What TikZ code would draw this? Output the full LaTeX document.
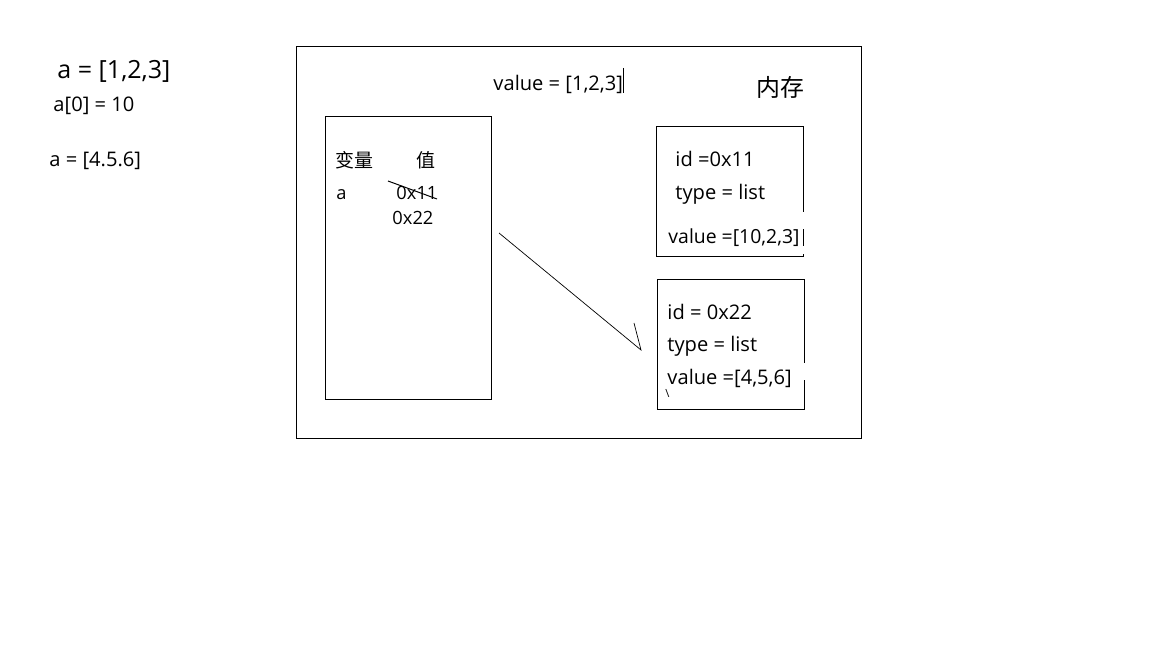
\documentclass[tikz,border=0pt]{standalone}
\usepackage{fontspec}
\setmainfont{Open Sans}
\newfontfamily\cjk{Noto Sans CJK SC}
\usetikzlibrary{positioning}

\begin{document}
\begin{tikzpicture}[x=0.025cm,y=-0.025cm,line width=0.7pt]
    \tikzstyle{frame} = [draw, rectangle, inner sep=0pt, anchor=north west]
    \tikzstyle{txt} = [anchor=base west, inner sep=0pt,
    font=\fontsize{14.3}{17}\selectfont]
    \tikzstyle{gap} = [draw=white, line width=2pt]

    \useasboundingbox (0,0) rectangle (1152,648);

    \draw
    (296,46) node [frame, minimum width=14.125cm, minimum height=9.8cm] (mem) {}
    (325,116) node [frame, minimum width=4.15cm, minimum height=7.075cm] (vars) {}
    (656,126) node [frame, minimum width=3.675cm, minimum height=3.25cm] (obj1) {}
    (657,279) node [frame, minimum width=3.675cm, minimum height=3.25cm] (obj2) {}
;
    % breaks in the right edges
    \draw[gap] (obj1.north east |- 0,212) -- (obj1.north east |- 0,229);
    \draw[gap] (obj1.north east |- 0,246) -- (obj1.north east |- 0,254);
    \draw[gap] (obj2.north east |- 0,363) -- (obj2.north east |- 0,380);

    \draw
    (57,79) node [txt, font=\fontsize{17.8}{21}\selectfont] (code1) {a = [1,2,3]}
    (53,112) node [txt] (code2) {a[0] = 10}
    (49,167) node [txt] (code3) {a = [4.5.6]}
    (493,91) node [txt] (value) {value = [1,2,3]}
    (756,97) node [txt, font=\fontsize{17}{20}\cjk] (memtitle) {内存}

    (335,168) node [txt, font=\fontsize{13.5}{16}\cjk] (varhead) {变量}
    (416,168) node [txt, font=\fontsize{13.5}{16}\cjk] (valhead) {值}
    (336,200) node [txt, font=\fontsize{13}{16}\selectfont] (var) {a}
    (396,200) node [txt, font=\fontsize{13}{16}\selectfont] (old) {0x11}
    (392,225) node [txt, font=\fontsize{13}{16}\selectfont] (new) {0x22}

    (675,167) node [txt] (id1) {id =0x11}
    (675,200) node [txt] (type1) {type = list}
    (668,244) node [txt, font=\fontsize{13.8}{16}\selectfont] (val1) {value =[10,2,3]}

    (667,320) node [txt] (id2) {id = 0x22}
    (667,352) node [txt] (type2) {type = list}
    (667,385) node [txt] (val2) {value =[4,5,6]}
    (665,398) node [txt, font=\fontsize{8}{9}\selectfont] (mark) {\textbackslash}
;

    \coordinate (cursor) at (623,68);
    \coordinate (strikeA) at (388,181);
    \coordinate (strikeB) at (437,199);
    \coordinate (tail) at (499,233);
    \coordinate (tip) at (641,350);
    \coordinate (barb) at (634,323);

    \draw (cursor) -- ++(0,25);
    \draw (strikeA) -- (strikeB);
    \draw[line width=0.5pt] (tail) -- (tip) -- (barb);

  \end{tikzpicture}
\end{document}
